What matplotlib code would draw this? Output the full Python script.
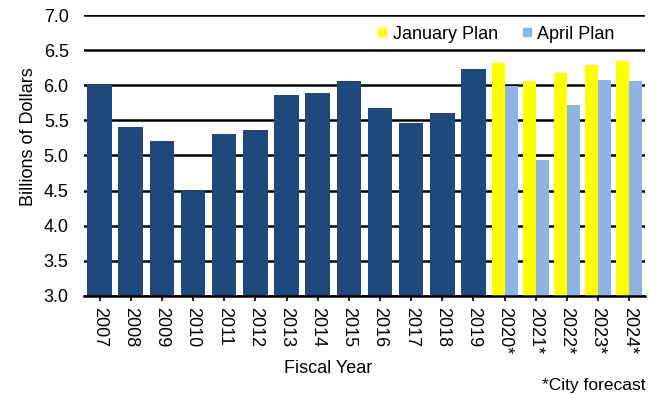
import matplotlib.pyplot as plt
from matplotlib.lines import Line2D
import numpy as np

plt.rcParams['font.family'] = ['Liberation Sans', 'DejaVu Sans']

# actual revenue, fiscal years 2007-2019
years = ['2007', '2008', '2009', '2010', '2011', '2012', '2013',
         '2014', '2015', '2016', '2017', '2018', '2019']
actual = [6.01, 5.41, 5.20, 4.50, 5.30, 5.36, 5.86, 5.89, 6.06, 5.67, 5.46, 5.61, 6.23]

# forecast years, two plan versions
fc_years = ['2020*', '2021*', '2022*', '2023*', '2024*']
jan_plan = [6.31, 6.06, 6.17, 6.29, 6.34]
apr_plan = [5.99, 4.93, 5.72, 6.08, 6.06]

dark_blue = '#1F497D'
yellow = '#FFFF00'
light_blue = '#8EB4E3'
fs = 13

fig = plt.figure(figsize=(6.56, 3.95), dpi=100)
ax = fig.add_axes([0.128, 0.251, 0.855, 0.711])

x_act = np.arange(len(years))
x_fc = np.arange(len(years), len(years) + len(fc_years))
w = 0.42

ax.bar(x_act, actual, width=0.79, color=dark_blue, zorder=3)
ax.bar(x_fc - w / 2, jan_plan, width=w, color=yellow, zorder=3)
ax.bar(x_fc + w / 2, apr_plan, width=w, color=light_blue, zorder=3)

yt = np.arange(3.0, 7.01, 0.5)
ax.set_ylim(3.0, 7.0)
ax.set_xlim(-0.5, len(years) + len(fc_years) - 0.5)
ax.set_yticks(yt)
ax.set_yticklabels([f'{v:.1f}' for v in yt], fontsize=fs)
ax.set_xticks(np.concatenate([x_act, x_fc]))
ax.set_xticklabels(years + fc_years, rotation=270, fontsize=fs)

ax.yaxis.grid(True, color='black', linewidth=1.8, zorder=0)
ax.set_axisbelow(True)
for s in ['left', 'right', 'top']:
    ax.spines[s].set_visible(False)
ax.spines['bottom'].set_linewidth(1.8)
ax.spines['bottom'].set_zorder(4)
ax.tick_params(axis='y', length=0, pad=11)
ax.tick_params(axis='x', length=3.5, width=1.2, direction='out', pad=4.5)

ax.set_ylabel('Billions of Dollars', fontsize=fs)
ax.yaxis.set_label_coords(-0.084, 0.566)
ax.set_xlabel('Fiscal Year', fontsize=fs)
ax.xaxis.set_label_coords(0.435, -0.228)

# small square legend keys
handles = [Line2D([], [], marker='s', linestyle='', markersize=6,
                  markerfacecolor=c, markeredgecolor=c) for c in (yellow, light_blue)]
ax.legend(handles, ['January Plan', 'April Plan'], loc='center right',
          bbox_to_anchor=(0.9465, 0.932), ncol=2, frameon=False, fontsize=fs,
          handlelength=0.5, handletextpad=0.35, columnspacing=1.35,
          borderpad=0, borderaxespad=0)

fig.text(646 / 656, 1 - 390 / 395, '*City forecast', ha='right', va='baseline',
         fontsize=12.5)

fig.savefig('out.png', dpi=100)
